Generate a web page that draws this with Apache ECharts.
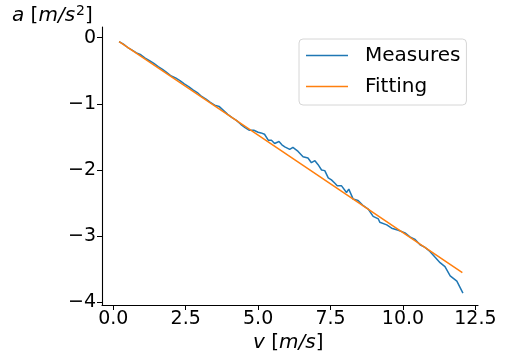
<!DOCTYPE html>
<html>
<head>
<meta charset="utf-8">
<script src="https://cdn.jsdelivr.net/npm/echarts@6/dist/echarts.min.js"></script>
<style>html,body{margin:0;padding:0;background:#fff;}#c{width:506px;height:363px;}</style>
</head>
<body>
<div id="c"></div>
<script>
var measV = [0.2,0.35,0.5,0.65,0.8,0.95,1.1,1.25,1.4,1.55,1.7,1.85,2.0,2.15,2.3,2.45,2.6,2.75,2.9,3.05,3.2,3.35,3.5,3.65,3.8,3.95,4.1,4.25,4.4,4.55,4.7,4.85,5.0,5.1,5.22,5.35,5.46,5.57,5.72,5.82,5.92,6.09,6.2,6.38,6.55,6.72,6.84,6.96,7.07,7.19,7.3,7.42,7.53,7.65,7.73,7.88,8.05,8.13,8.28,8.45,8.63,8.8,8.97,9.15,9.2,9.44,9.61,9.84,10.07,10.24,10.42,10.59,10.76,10.93,11.11,11.28,11.45,11.63,11.86,12.07];
var measA = [-0.06,-0.10,-0.15,-0.19,-0.23,-0.26,-0.31,-0.35,-0.39,-0.44,-0.48,-0.53,-0.58,-0.61,-0.65,-0.70,-0.74,-0.79,-0.83,-0.89,-0.93,-0.98,-1.02,-1.04,-1.10,-1.16,-1.21,-1.25,-1.31,-1.36,-1.40,-1.40,-1.43,-1.44,-1.46,-1.55,-1.55,-1.60,-1.57,-1.62,-1.65,-1.69,-1.66,-1.72,-1.80,-1.82,-1.89,-1.86,-1.92,-2.00,-2.01,-2.12,-2.15,-2.20,-2.24,-2.24,-2.34,-2.29,-2.44,-2.46,-2.54,-2.59,-2.70,-2.74,-2.79,-2.83,-2.88,-2.91,-2.95,-3.01,-3.05,-3.13,-3.17,-3.23,-3.32,-3.40,-3.46,-3.60,-3.68,-3.86];
// Fitted curve
var fitV = [0.2,4.0,7.5,12.05];
var fitA = [-0.06,-1.18,-2.21,-3.55];
// Tick labels
var xTicks = [0,2.5,5,7.5,10,12.5];
var yTicks = [0,-1,-2,-3,-4];

function pairs(xs, ys){ return xs.map(function(x,i){ return [x, ys[i]]; }); }

var chart = echarts.init(document.getElementById('c'), null, {renderer:'canvas'});
var font = 'DejaVu Sans';
chart.setOption({
  animation:false,
  backgroundColor:'#fff',
  grid:{left:102, top:27, right:28, bottom:58, containLabel:false},
  xAxis:{
    type:'value', min:-0.39, max:12.59,
    axisLine:{show:true, onZero:false, lineStyle:{color:'#000', width:1.1}},
    axisTick:{show:true, length:5, inside:false, customValues:xTicks, lineStyle:{color:'#000', width:1}},
    axisLabel:{customValues:xTicks, fontFamily:font, fontSize:19, color:'#000', margin:5,
      formatter:function(v){ return v.toFixed(1); }},
    splitLine:{show:false}
  },
  yAxis:{
    type:'value', min:-4.04, max:0.16,
    axisLine:{show:true, onZero:false, lineStyle:{color:'#000', width:1.1}},
    axisTick:{show:true, length:5, inside:false, customValues:yTicks, lineStyle:{color:'#000', width:1}},
    axisLabel:{customValues:yTicks, fontFamily:font, fontSize:19, color:'#000', margin:6,
      formatter:function(v){ return v<0 ? '\u2212'+Math.abs(v) : String(v); }},
    splitLine:{show:false}
  },
  legend:{
    orient:'vertical', left:299, top:39,
    data:['Measures','Fitting'],
    icon:'rect', itemWidth:42, itemHeight:1.6, itemGap:10,
    padding:[6,6,8,7],
    backgroundColor:'rgba(255,255,255,0.8)',
    borderColor:'#d6d6d6', borderWidth:1, borderRadius:4,
    textStyle:{fontFamily:font, fontSize:20, color:'#000', lineHeight:21, padding:[0,0,0,12]}
  },
  graphic:[
    {type:'text', left:12, top:4, style:{
      text:'{i|a} [{i|m/s}{s|2}]',
      rich:{
        i:{fontFamily:font, fontStyle:'italic', fontSize:20, fill:'#000'},
        s:{fontFamily:font, fontSize:14, fill:'#000', verticalAlign:'top', padding:[0,0,9,1]}
      },
      fontFamily:font, fontSize:20, fill:'#000'
    }},
    {type:'text', left:253, top:333, style:{
      text:'{i|v} [{i|m/s}]',
      rich:{ i:{fontFamily:font, fontStyle:'italic', fontSize:20, fill:'#000'} },
      fontFamily:font, fontSize:20, fill:'#000'
    }}
  ],
  series:[
    {name:'Measures', type:'line', data:pairs(measV, measA), showSymbol:false, symbol:'none',
      lineStyle:{color:'#1f77b4', width:1.5}, itemStyle:{color:'#1f77b4'}},
    {name:'Fitting', type:'line', data:pairs(fitV, fitA), showSymbol:false, symbol:'none',
      lineStyle:{color:'#ff7f0e', width:1.5}, itemStyle:{color:'#ff7f0e'}}
  ]
});
</script>
</body>
</html>
